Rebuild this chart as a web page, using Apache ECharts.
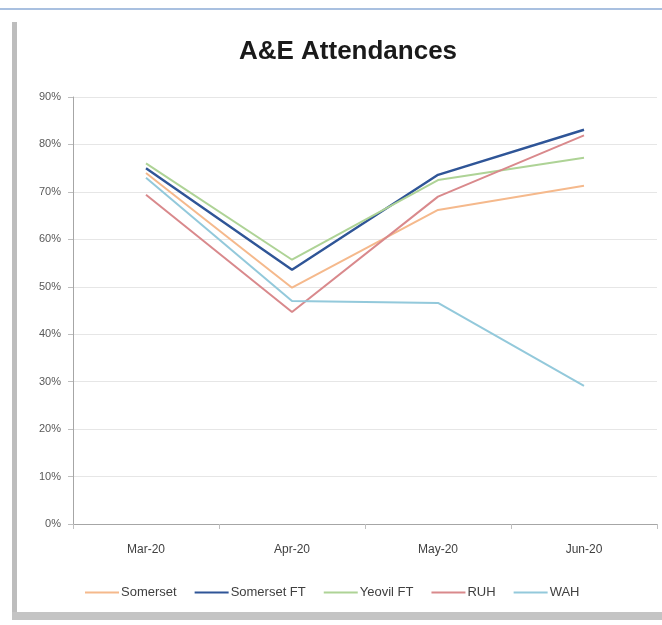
<!DOCTYPE html>
<html>
<head>
<meta charset="utf-8">
<script src="https://cdn.jsdelivr.net/npm/echarts@6/dist/echarts.min.js"></script>
<style>
  html, body { margin: 0; padding: 0; background: #ffffff; }
  #chart { width: 662px; height: 625px; }
</style>
</head>
<body>
<div id="chart"></div>
<script>
// Monthly A&E attendances as a share of the baseline (%)
var months = ['Mar-20', 'Apr-20', 'May-20', 'Jun-20'];
var somerset   = [74, 49.8, 66.2, 71.3];
var somersetFT = [75, 53.6, 73.6, 83.1];
var yeovilFT   = [76, 55.7, 72.5, 77.2];
var roh        = [69.4, 44.7, 69, 81.9];
var wah        = [73, 47, 46.6, 29.1];
var yTicks = { min: 0, max: 90, step: 10 };

var FONT = 'Liberation Sans, Arial, sans-serif';
var chart = echarts.init(document.getElementById('chart'));

function line(name, data, color, width) {
  return {
    name: name,
    type: 'line',
    data: data,
    symbol: 'none',
    smooth: false,
    lineStyle: { color: color, width: width },
    itemStyle: { color: color }
  };
}

chart.setOption({
  backgroundColor: '#ffffff',
  animation: false,
  title: {
    text: 'A&E Attendances',
    left: 343,
    top: 34,
    textAlign: 'center',
    textStyle: {
      fontFamily: FONT,
      fontSize: 26,
      fontWeight: 'bold',
      color: '#1a1a1a'
    }
  },
  grid: { left: 73, right: 5, top: 97, bottom: 101 },
  xAxis: {
    type: 'category',
    data: months,
    boundaryGap: true,
    axisLine: { lineStyle: { color: '#a6a6a6', width: 1 } },
    axisTick: { show: true, length: 5, lineStyle: { color: '#bfbfbf' } },
    axisLabel: {
      margin: 20,
      color: '#404040',
      fontSize: 12,
      fontFamily: FONT
    }
  },
  yAxis: {
    type: 'value',
    min: yTicks.min,
    max: yTicks.max,
    interval: yTicks.step,
    axisLine: { show: true, lineStyle: { color: '#a6a6a6', width: 1 } },
    axisTick: { show: true, length: 5, lineStyle: { color: '#bfbfbf' } },
    splitLine: { lineStyle: { color: '#e6e6e6', width: 1 } },
    axisLabel: {
      formatter: '{value}%',
      margin: 12,
      color: '#595959',
      fontSize: 11,
      fontFamily: FONT
    }
  },
  legend: {
    left: 80,
    top: 581,
    icon: 'rect',
    itemWidth: 34,
    itemHeight: 2,
    itemGap: 18,
    textStyle: {
      color: '#404040',
      fontSize: 13,
      fontFamily: FONT,
      padding: [0, 0, 0, -3]
    },
    data: ['Somerset', 'Somerset FT', 'Yeovil FT', 'RUH', 'WAH']
  },
  series: [
    line('Somerset', somerset, '#f5b98c', 2),
    line('Somerset FT', somersetFT, '#2f5597', 2.4),
    line('Yeovil FT', yeovilFT, '#aed396', 2),
    line('RUH', roh, '#d9898c', 2),
    line('WAH', wah, '#93c9db', 2)
  ],
  graphic: [
    // frame: thin blue rule on top, grey shadow on left and bottom
    { type: 'rect', shape: { x: 0, y: 8, width: 662, height: 2 }, style: { fill: '#a9c0e0' } },
    { type: 'rect', shape: { x: 12, y: 22, width: 5, height: 598 }, style: { fill: '#bdbdbd' } },
    { type: 'rect', shape: { x: 12, y: 612, width: 650, height: 8 }, style: { fill: '#c4c4c4' } }
  ]
});
</script>
</body>
</html>
